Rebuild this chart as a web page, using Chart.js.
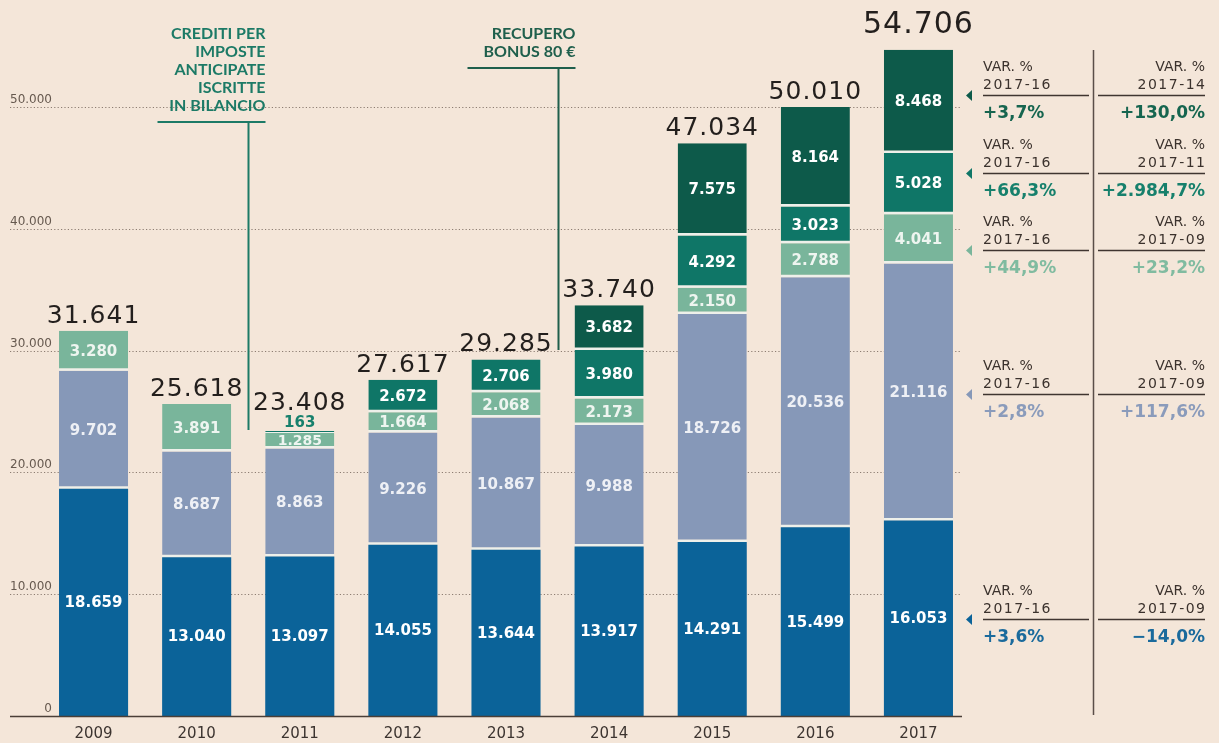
<!DOCTYPE html>
<html lang="it">
<head>
<meta charset="utf-8">
<script src="https://cdn.jsdelivr.net/npm/chart.js@4.4.1/dist/chart.umd.min.js"></script>
<style>
  html, body { margin: 0; padding: 0; background: #f4e6d9; overflow: hidden; }
</style>
</head>
<body>
<canvas id="grafico" width="1219" height="752"></canvas>
<script>
const anni = ['2009', '2010', '2011', '2012', '2013', '2014', '2015', '2016', '2017'];
const serieBlu = [18659, 13040, 13097, 14055, 13644, 13917, 14291, 15499, 16053];
const serieGrigia = [9702, 8687, 8863, 9226, 10867, 9988, 18726, 20536, 21116];
const serieVerdeChiaro = [3280, 3891, 1285, 1664, 2068, 2173, 2150, 2788, 4041];
const serieVerdeAcqua = [null, null, 163, 2672, 2706, 3980, 4292, 3023, 5028];
const serieVerdeScuro = [null, null, null, null, null, 3682, 7575, 8164, 8468];
const tickY = [0, 10000, 20000, 30000, 40000, 50000];

// pannello variazioni, dall'alto verso il basso
const varSerie = [4, 3, 2, 1, 0];
const varPeriodo = ['2017-14', '2017-11', '2017-09', '2017-09', '2017-09'];
const varAnnuale = ['+3,7%', '+66,3%', '+44,9%', '+2,8%', '+3,6%'];
const varLunga = ['+130,0%', '+2.984,7%', '+23,2%', '+117,6%', '\u221214,0%'];

const colori = ['#0b6399', '#8698b8', '#79b59b', '#0f7667', '#0d5a4a'];
const coloriTesto = ['#1a6a9c', '#8a9bbb', '#80bba0', '#17806c', '#16654f'];
const coloriEtichetta = ['#ffffff', '#eef0f5', '#eef5f0', '#ffffff', '#ffffff'];

const tutteLeSerie = [serieBlu, serieGrigia, serieVerdeChiaro, serieVerdeAcqua, serieVerdeScuro];

function fmt(v) {
    return String(v).replace(/\B(?=(\d{3})+(?!\d))/g, '.');
}

const disegni = {
    id: 'disegni',
    beforeDatasetsDraw(chart) {
        const ctx = chart.ctx;
        const y = chart.scales.y;
        ctx.save();
        ctx.strokeStyle = '#8d7d72';
        ctx.lineWidth = 1.2;
        ctx.setLineDash([1.2, 2.2]);
        tickY.forEach(v => {
            const py = Math.round(y.getPixelForValue(v)) + 0.5;
            if (v > 0) {
                ctx.beginPath();
                ctx.moveTo(10, py);
                ctx.lineTo(962, py);
                ctx.stroke();
            }
            ctx.fillStyle = '#66594f';
            ctx.font = '12px "DejaVu Sans"';
            ctx.textAlign = 'right';
            ctx.textBaseline = 'alphabetic';
            ctx.fillText(v === 0 ? '0' : fmt(v), 52, py - 5);
        });
        ctx.restore();
    },
    afterDatasetsDraw(chart) {
        const ctx = chart.ctx;
        const x = chart.scales.x;
        const y = chart.scales.y;
        ctx.save();

        // linea di base
        const base = Math.round(y.getPixelForValue(0)) + 0.5;
        ctx.strokeStyle = '#4a3f38';
        ctx.lineWidth = 1.5;
        ctx.beginPath();
        ctx.moveTo(10, base);
        ctx.lineTo(962, base);
        ctx.stroke();

        // etichette dei segmenti
        ctx.textAlign = 'center';
        ctx.textBaseline = 'middle';
        tutteLeSerie.forEach((serie, d) => {
            const meta = chart.getDatasetMeta(d);
            meta.data.forEach((bar, i) => {
                const v = serie[i];
                if (v == null) return;
                if (v < 500) {
                    ctx.fillStyle = coloriTesto[d];
                    ctx.font = 'bold 15px "DejaVu Sans"';
                    ctx.fillText(fmt(v), bar.x, bar.y - 8);
                } else {
                    ctx.fillStyle = coloriEtichetta[d];
                    ctx.font = (v < 1500 ? 'bold 14px' : 'bold 15px') + ' "DejaVu Sans"';
                    ctx.fillText(fmt(v), bar.x, (bar.y + bar.base) / 2 + 1);
                }
            });
        });

        // totali sopra le barre
        ctx.textBaseline = 'alphabetic';
        ctx.fillStyle = '#231f1d';
        anni.forEach((a, i) => {
            let tot = 0, top = base, piccolo = false;
            tutteLeSerie.forEach((serie, d) => {
                const v = serie[i];
                if (v == null) return;
                tot += v;
                const bar = chart.getDatasetMeta(d).data[i];
                top = Math.min(top, bar.y);
                piccolo = v < 500;
            });
            const ultimo = i === anni.length - 1;
            ctx.font = (ultimo ? '30px' : '25px') + ' "DejaVu Sans"';
            ctx.letterSpacing = '1px';
            const gap = ultimo ? 17 : (piccolo ? 21 : 8);
            ctx.fillText(fmt(tot), x.getPixelForValue(i), top - gap);
        });
        ctx.letterSpacing = '0px';

        // note con richiamo
        const note = [
            { righe: ['CREDITI PER', 'IMPOSTE', 'ANTICIPATE', 'ISCRITTE', 'IN BILANCIO'], dopo: 1, colore: '#1c7a66', primaY: 39, fine: 430 },
            { righe: ['RECUPERO', 'BONUS 80 \u20ac'], dopo: 4, colore: '#1f5f4c', primaY: 39, fine: 350 }
        ];
        note.forEach(n => {
            const lx = Math.round((x.getPixelForValue(n.dopo) + x.getPixelForValue(n.dopo + 1)) / 2) + 0.5;
            const destra = lx + 17;
            ctx.fillStyle = n.colore;
            ctx.font = 'bold 16px Lato';
            ctx.textAlign = 'right';
            n.righe.forEach((r, k) => ctx.fillText(r, destra, n.primaY + k * 18));
            const sotto = n.primaY + (n.righe.length - 1) * 18 + 11;
            ctx.strokeStyle = n.colore;
            ctx.lineWidth = 2;
            ctx.beginPath();
            ctx.moveTo(destra - 108, sotto);
            ctx.lineTo(destra, sotto);
            ctx.moveTo(lx, sotto);
            ctx.lineTo(lx, n.fine);
            ctx.stroke();
        });

        // pannello variazioni
        const righeY = [95, 173, 250, 394, 619];
        varSerie.forEach((d, r) => {
            const ly = righeY[r] + 0.5;
            ctx.fillStyle = colori[d];
            ctx.beginPath();
            ctx.moveTo(966, ly);
            ctx.lineTo(972, ly - 5.5);
            ctx.lineTo(972, ly + 5.5);
            ctx.closePath();
            ctx.fill();

            ctx.strokeStyle = '#3f3530';
            ctx.lineWidth = 1.5;
            ctx.beginPath();
            ctx.moveTo(983, ly);
            ctx.lineTo(1089, ly);
            ctx.moveTo(1098, ly);
            ctx.lineTo(1205, ly);
            ctx.stroke();

            ctx.fillStyle = '#3b322d';
            ctx.font = '14px "DejaVu Sans"';
            ctx.textAlign = 'left';
            ctx.fillText('VAR. %', 983, ly - 25);
            ctx.textAlign = 'right';
            ctx.fillText('VAR. %', 1205, ly - 25);
            ctx.letterSpacing = '1.5px';
            ctx.textAlign = 'left';
            ctx.fillText('2017-16', 983, ly - 7);
            ctx.textAlign = 'right';
            ctx.fillText(varPeriodo[r], 1206.5, ly - 7);
            ctx.letterSpacing = '0px';

            ctx.fillStyle = coloriTesto[d];
            ctx.font = 'bold 17px "DejaVu Sans"';
            ctx.textAlign = 'left';
            ctx.fillText(varAnnuale[r], 983, ly + 22);
            ctx.textAlign = 'right';
            ctx.fillText(varLunga[r], 1205, ly + 22);
        });

        ctx.strokeStyle = '#5a4e48';
        ctx.lineWidth = 1.5;
        ctx.beginPath();
        ctx.moveTo(1093.5, 50);
        ctx.lineTo(1093.5, 715);
        ctx.stroke();

        ctx.restore();
    }
};

const datasets = tutteLeSerie.map((serie, d) => ({
    label: 'serie ' + (d + 1),
    data: serie,
    backgroundColor: colori[d],
    borderColor: '#eef0ea',
    borderWidth: d === 0 ? 0 : { top: 0, left: 0, right: 0, bottom: 2.5 },
    borderSkipped: false,
    barPercentage: 0.67,
    categoryPercentage: 1
}));

new Chart(document.getElementById('grafico').getContext('2d'), {
    type: 'bar',
    data: { labels: anni, datasets: datasets },
    plugins: [disegni],
    options: {
        responsive: false,
        animation: false,
        devicePixelRatio: 1,
        layout: { padding: { left: 42, right: 249, top: 0, bottom: 0 } },
        plugins: { legend: { display: false }, tooltip: { enabled: false } },
        scales: {
            x: {
                stacked: true,
                grid: { display: false, drawTicks: false },
                border: { display: false },
                ticks: { color: '#3c3430', font: { family: 'DejaVu Sans', size: 15 }, padding: 9 }
            },
            y: {
                stacked: true,
                display: false,
                min: 0,
                max: 58800
            }
        }
    }
});
</script>
</body>
</html>
